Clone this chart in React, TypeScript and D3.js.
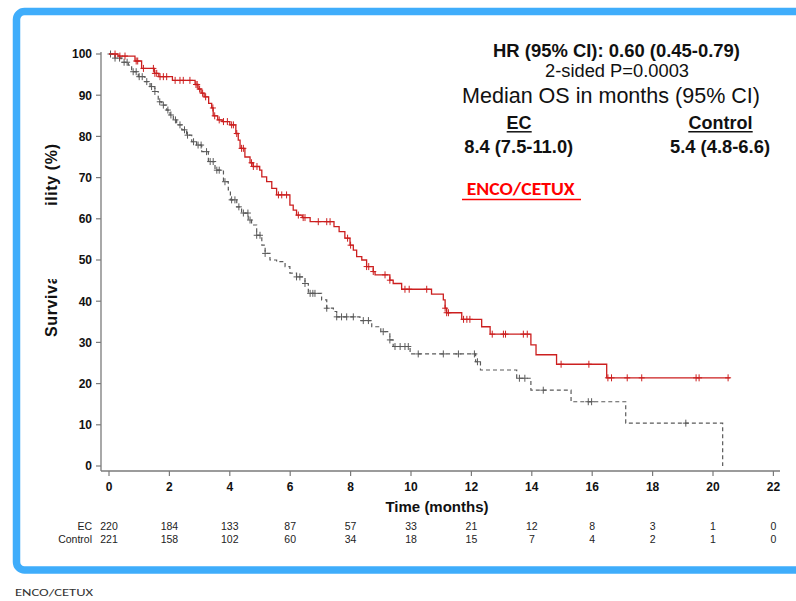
import React from "react";
import * as d3 from "d3";

// Kaplan-Meier step points (months, survival %)
const ecTime = [0, 0.3, 0.86, 1.08, 1.5, 1.65, 2.1, 2.85, 2.95, 3.05, 3.15, 3.3, 3.4, 3.45, 3.6, 3.75, 4.0, 4.2, 4.28, 4.34, 4.5, 4.67, 4.77, 4.99, 5.06, 5.22, 5.39, 5.55, 5.99, 6.1, 6.21, 6.4, 6.66, 7.45, 7.62, 7.81, 7.98, 8.09, 8.2, 8.37, 8.53, 8.75, 8.81, 9.3, 9.41, 9.69, 10.68, 11.07, 11.13, 11.18, 11.68, 12.34, 12.62, 13.97, 14.14, 14.82, 16.48];
const ecSurv = [100, 99.5, 98.3, 96.5, 95.3, 94.5, 93.6, 92.6, 91.5, 90.5, 89.6, 88.0, 86.9, 85.0, 84.0, 83.6, 82.8, 80.7, 79.1, 77.1, 75.0, 73.6, 72.7, 71.8, 70.2, 69.0, 67.4, 65.8, 63.3, 62.1, 60.9, 60.3, 59.3, 58.1, 56.9, 55.3, 53.6, 52.4, 50.8, 50.0, 48.4, 47.2, 46.4, 45.1, 44.3, 42.9, 41.7, 40.3, 38.3, 37.2, 35.6, 33.8, 32.0, 29.4, 27.0, 24.7, 21.4];
const ecLastTime = 20.56;
const ecCensorTime = [0.2, 0.36, 0.53, 0.9, 0.95, 1.14, 1.47, 1.52, 1.58, 1.69, 1.8, 1.91, 2.19, 2.35, 2.46, 2.68, 2.88, 2.92, 3.0, 3.1, 3.2, 3.44, 3.5, 3.65, 3.79, 3.92, 4.06, 4.12, 4.23, 4.39, 4.45, 4.72, 4.78, 4.9, 5.61, 5.72, 5.88, 6.27, 6.43, 6.49, 6.93, 7.21, 7.32, 7.9, 8.0, 8.53, 8.6, 8.75, 9.14, 9.3, 9.8, 9.94, 10.52, 11.13, 11.18, 11.24, 11.74, 11.85, 11.95, 12.69, 13.06, 13.13, 13.72, 13.85, 14.97, 15.89, 16.52, 16.64, 17.16, 17.64, 19.44, 19.54, 20.5];

const ctrlTime = [0, 0.2, 0.42, 0.64, 0.75, 0.97, 1.19, 1.36, 1.52, 1.63, 1.75, 1.91, 2.02, 2.13, 2.24, 2.41, 2.57, 2.74, 2.9, 3.07, 3.29, 3.51, 3.79, 3.95, 4.02, 4.23, 4.39, 4.61, 4.72, 4.89, 5.06, 5.17, 5.33, 5.55, 5.83, 5.99, 6.21, 6.49, 6.6, 7.04, 7.21, 7.43, 7.54, 8.31, 8.7, 9.0, 9.3, 9.41, 9.97, 12.14, 12.3, 13.5, 13.97, 15.3, 17.11, 20.32];
const ctrlSurv = [100, 99.0, 98.0, 97.3, 95.7, 94.5, 93.3, 92.1, 90.9, 88.4, 87.6, 86.4, 85.2, 84.0, 82.8, 81.6, 80.3, 78.7, 77.9, 76.3, 73.9, 71.8, 69.0, 67.0, 64.6, 62.9, 61.4, 59.7, 58.5, 56.0, 53.6, 51.6, 50.0, 49.6, 48.4, 46.8, 45.9, 44.3, 41.9, 40.3, 38.3, 37.5, 36.2, 35.3, 33.8, 32.6, 30.6, 29.0, 27.2, 25.3, 23.3, 21.3, 18.4, 15.6, 10.4, 0];
const ctrlCensorTime = [0.05, 0.2, 0.35, 0.5, 0.6, 0.8, 0.9, 1.0, 1.1, 1.25, 1.41, 1.52, 1.68, 1.8, 1.95, 2.05, 2.2, 2.35, 2.5, 2.6, 2.8, 2.95, 3.05, 3.23, 3.35, 3.45, 3.57, 3.65, 3.84, 4.06, 4.17, 4.3, 4.45, 4.6, 4.67, 4.89, 5.0, 5.17, 6.21, 6.32, 6.49, 6.66, 6.75, 6.82, 7.21, 7.54, 7.7, 7.87, 8.09, 8.42, 8.59, 9.08, 9.3, 9.47, 9.64, 9.8, 9.91, 10.24, 11.07, 11.57, 12.1, 12.2, 13.59, 13.77, 14.38, 15.87, 15.98, 19.1];

const xTicks = [0, 2, 4, 6, 8, 10, 12, 14, 16, 18, 20, 22];
const yTicks = [0, 10, 20, 30, 40, 50, 60, 70, 80, 90, 100];
const atRiskEC = [220, 184, 133, 87, 57, 33, 21, 12, 8, 3, 1, 0];
const atRiskCtrl = [221, 158, 102, 60, 34, 18, 15, 7, 4, 2, 1, 0];

const FONT = "'Liberation Sans', Arial, Helvetica, sans-serif";
const CAL = "Carlito, Lato, 'Open Sans', sans-serif";
const RED = "#cc1f1f";
const GRAY = "#5a5a5a";
const BLUE = "#3fadfb";

const x = d3.scaleLinear().domain([0, 22]).range([109, 773.4]);
const y = d3.scaleLinear().domain([0, 100]).range([466, 54]);

function survAt(times: number[], surv: number[], t: number) {
  const i = d3.bisectRight(times, t) - 1;
  return surv[Math.max(0, i)];
}

const stepLine = d3
  .line<[number, number]>()
  .x((d) => x(d[0]))
  .y((d) => y(d[1]))
  .curve(d3.curveStepAfter);

function Censors({ times, stepT, stepS, color }: { times: number[]; stepT: number[]; stepS: number[]; color: string }) {
  return (
    <g stroke={color} strokeWidth={1}>
      {times.map((t, i) => {
        const cx = x(t);
        const cy = y(survAt(stepT, stepS, t));
        return (
          <g key={i}>
            <line x1={cx - 3} x2={cx + 3} y1={cy} y2={cy} />
            <line x1={cx} x2={cx} y1={cy - 3.5} y2={cy + 3.5} />
          </g>
        );
      })}
    </g>
  );
}

export default function App() {
  const ecPts: [number, number][] = ecTime.map((t, i) => [t, ecSurv[i]] as [number, number]);
  ecPts.push([ecLastTime, ecSurv[ecSurv.length - 1]]);
  const ctrlPts: [number, number][] = ctrlTime.map((t, i) => [t, ctrlSurv[i]] as [number, number]);

  const axisColor = "#7a7a7a";
  const xAxisY = 471;

  return (
    <svg
      width={796}
      height={601}
      style={{ position: "absolute", left: 0, top: 0, display: "block", background: "#fff" }}
    >
      <rect x={0} y={0} width={796} height={601} fill="#fff" />
      {/* slide frame */}
      <rect x={16.5} y={11.5} width={800} height={558.5} rx={8} fill="none" stroke={BLUE} strokeWidth={7.5} />

      {/* axes */}
      <line x1={101} x2={101} y1={52} y2={xAxisY} stroke={axisColor} strokeWidth={1.3} />
      <line x1={101} x2={780} y1={xAxisY} y2={xAxisY} stroke={axisColor} strokeWidth={1.3} />
      {yTicks.map((v) => (
        <g key={"y" + v}>
          <line x1={96} x2={101} y1={y(v)} y2={y(v)} stroke={axisColor} strokeWidth={1.2} />
          <text x={92} y={y(v)} dy="0.36em" textAnchor="end" fontFamily={FONT} fontWeight="bold" fontSize={12} fill="#111">
            {v}
          </text>
        </g>
      ))}
      {xTicks.map((v) => (
        <g key={"x" + v}>
          <line x1={x(v)} x2={x(v)} y1={xAxisY} y2={xAxisY + 5} stroke={axisColor} strokeWidth={1.2} />
          <text x={x(v)} y={490.7} textAnchor="middle" fontFamily={FONT} fontWeight="bold" fontSize={12} fill="#111">
            {v}
          </text>
        </g>
      ))}
      <text x={437} y={512} textAnchor="middle" fontFamily={FONT} fontWeight="bold" fontSize={15} fill="#111">
        Time (months)
      </text>

      {/* y axis title, middle part covered */}
      <text
        transform="translate(57,337) rotate(-90)"
        fontFamily={FONT}
        fontWeight="bold"
        fontSize={16}
        textLength={193}
        lengthAdjust="spacing"
        fill="#111"
      >
        Survival Probability (%)
      </text>
      <rect x={38} y={205} width={26} height={74} fill="#fff" />

      {/* curves */}
      <path d={stepLine(ctrlPts) || ""} fill="none" stroke={GRAY} strokeWidth={1.2} strokeDasharray="4,3" />
      <Censors times={ctrlCensorTime} stepT={ctrlTime} stepS={ctrlSurv} color={GRAY} />
      <path d={stepLine(ecPts) || ""} fill="none" stroke={RED} strokeWidth={1.3} />
      <Censors times={ecCensorTime} stepT={ecTime} stepS={ecSurv} color={RED} />

      {/* numbers at risk */}
      <text x={92} y={530} textAnchor="end" fontFamily={FONT} fontSize={10.5} fill="#222">EC</text>
      <text x={92} y={543} textAnchor="end" fontFamily={FONT} fontSize={10.5} fill="#222">Control</text>
      {xTicks.map((v, i) => (
        <g key={"r" + v} fontFamily={FONT} fontSize={10.5} fill="#222" textAnchor="middle">
          <text x={x(v)} y={530}>{atRiskEC[i]}</text>
          <text x={x(v)} y={543}>{atRiskCtrl[i]}</text>
        </g>
      ))}

      {/* statistics block */}
      <g fontFamily={FONT} fill="#111" textAnchor="middle" lengthAdjust="spacingAndGlyphs">
        <text x={616.5} y={57} fontWeight="bold" fontSize={18} textLength={247} lengthAdjust="spacingAndGlyphs">HR (95% CI): 0.60 (0.45-0.79)</text>
        <text x={617} y={77.3} fontSize={18} textLength={144} lengthAdjust="spacingAndGlyphs">2-sided P=0.0003</text>
        <text x={611} y={103.3} fontSize={21.5} textLength={298} lengthAdjust="spacingAndGlyphs">Median OS in months (95% CI)</text>
        <text x={519} y={129.3} fontWeight="bold" fontSize={18} textLength={25} lengthAdjust="spacingAndGlyphs">EC</text>
        <text x={720.5} y={129.3} fontWeight="bold" fontSize={18} textLength={64} lengthAdjust="spacingAndGlyphs">Control</text>
        <text x={518.7} y={152.7} fontWeight="bold" fontSize={18} textLength={109} lengthAdjust="spacingAndGlyphs">8.4 (7.5-11.0)</text>
        <text x={720} y={152.7} fontWeight="bold" fontSize={18} textLength={100} lengthAdjust="spacingAndGlyphs">5.4 (4.8-6.6)</text>
      </g>
      <line x1={506.7} x2={531.7} y1={131.8} y2={131.8} stroke="#111" strokeWidth={1.5} />
      <line x1={688.3} x2={752.7} y1={131.8} y2={131.8} stroke="#111" strokeWidth={1.5} />

      <text x={466.7} y={195} fontFamily={CAL} fontWeight="bold" fontSize={18} textLength={108} lengthAdjust="spacingAndGlyphs" fill="#ff0000">
        ENCO/CETUX
      </text>
      <line x1={462} x2={581} y1={199.5} y2={199.5} stroke="#ff0000" strokeWidth={1.6} />

      <text x={15} y={596} fontFamily={CAL} fontSize={11} textLength={78} lengthAdjust="spacingAndGlyphs" fill="#333">
        ENCO/CETUX
      </text>
    </svg>
  );
}
